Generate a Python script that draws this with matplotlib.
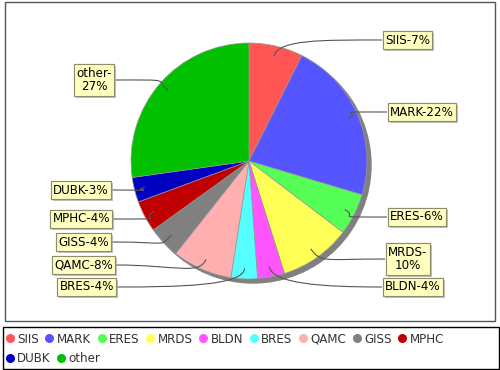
import numpy as np
import matplotlib.pyplot as plt
from matplotlib.patches import Circle, Rectangle, PathPatch
from matplotlib.path import Path
import matplotlib.patheffects as pe

names = ['SIIS', 'MARK', 'ERES', 'MRDS', 'BLDN', 'BRES', 'QAMC', 'GISS', 'MPHC', 'DUBK', 'other']
shares = [7.4, 22.2, 5.7, 9.8, 3.7, 3.6, 8.2, 4.4, 4.3, 3.4, 27.2]
colors = ['#ff5555', '#5555ff', '#55ff55', '#ffff55', '#ff55ff', '#55ffff',
          '#ffafaf', '#808080', '#c00000', '#0000c0', '#00c000']
wrapped = ['MRDS', 'other']

# label boxes: inner edge x, centre y (image pixels, y down)
label_pos = [(382, 40), (387, 112), (387, 217), (385, 259), (382, 287),
             (117, 287), (116, 265), (112, 242), (113, 219), (112, 190), (115, 80)]

W, H = 500, 370
cx, cy, R = 249, H - 161, 118

fig = plt.figure(figsize=(W / 100, H / 100), dpi=100)
ax = fig.add_axes([0, 0, 1, 1])

# chart frame
ax.add_patch(Rectangle((5, H - 321), 490, 319, fill=False, ec='#555555', lw=1, zorder=0))

# shadow
ax.add_patch(Circle((cx + 4, cy - 4), R, color='#808080', zorder=1))

wedges, _ = ax.pie(shares, colors=colors, startangle=90, counterclock=False,
                   center=(cx, cy), radius=R,
                   wedgeprops=dict(edgecolor='#999999', linewidth=0.5, zorder=2))
# pie() resets the limits, so fix them afterwards (1 unit = 1 pixel)
ax.set_xlim(0, W)
ax.set_ylim(0, H)
ax.set_aspect('auto')

total = sum(shares)
cum = np.cumsum([0] + shares[:-1])
for name, v, c0, (lx, ly) in zip(names, shares, cum, label_pos):
    ang = np.deg2rad(90 - 360 * (c0 + v / 2) / total)
    d = np.array([np.cos(ang), np.sin(ang)])
    p0 = np.array([cx, cy]) + 0.91 * R * d
    p1 = np.array([cx, cy]) + 1.06 * R * d
    right = lx > cx
    ly = H - ly
    p3 = np.array([lx, ly])
    p2 = np.array([lx - 60 if right else lx + 60, ly])
    path = Path([p0, p1, p2, p3], [Path.MOVETO, Path.CURVE4, Path.CURVE4, Path.CURVE4])
    ax.add_patch(PathPatch(path, fill=False, ec='#555555', lw=0.8, zorder=3))

    pct = f'{round(v * 100 / total):d}%'
    txt = f'{name}-\n{pct}' if name in wrapped else f'{name}-{pct}'
    t = ax.text(lx + 3 if right else lx - 3, ly, txt, fontsize=8.6,
                ha='left' if right else 'right', va='center', multialignment='center',
                zorder=5, linespacing=1.05,
                bbox=dict(boxstyle='square,pad=0.2', fc='#ffffc0', ec='#8c8c6e', lw=0.8))
    t.get_bbox_patch().set_path_effects([
        pe.withSimplePatchShadow(offset=(1.5, -1.5), shadow_rgbFace='#aaaaaa', alpha=0.7),
        pe.Normal()])

# legend box with flowing entries
ax.add_patch(Rectangle((3, H - 369), 496, 42, fill=True, fc='white', ec='black', lw=1, zorder=0))
renderer = fig.canvas.get_renderer()
rows_y = [338, 357.5]
x, row = 9.5, 0
for i, (name, c) in enumerate(zip(names, colors)):
    if i == 9:
        x, row = 9.5, 1
    y = H - rows_y[row]
    ax.plot([x], [y], 'o', color=c, ms=6.5, mec='none', zorder=4)
    t = ax.text(x + 7.5, y, name, fontsize=8.6, color='#333333', va='center_baseline', zorder=4)
    bb = t.get_window_extent(renderer)
    x = bb.x1 + 10.5

ax.set_xlim(0, W)
ax.set_ylim(0, H)
ax.axis('off')

fig.savefig('out.png', dpi=100)
